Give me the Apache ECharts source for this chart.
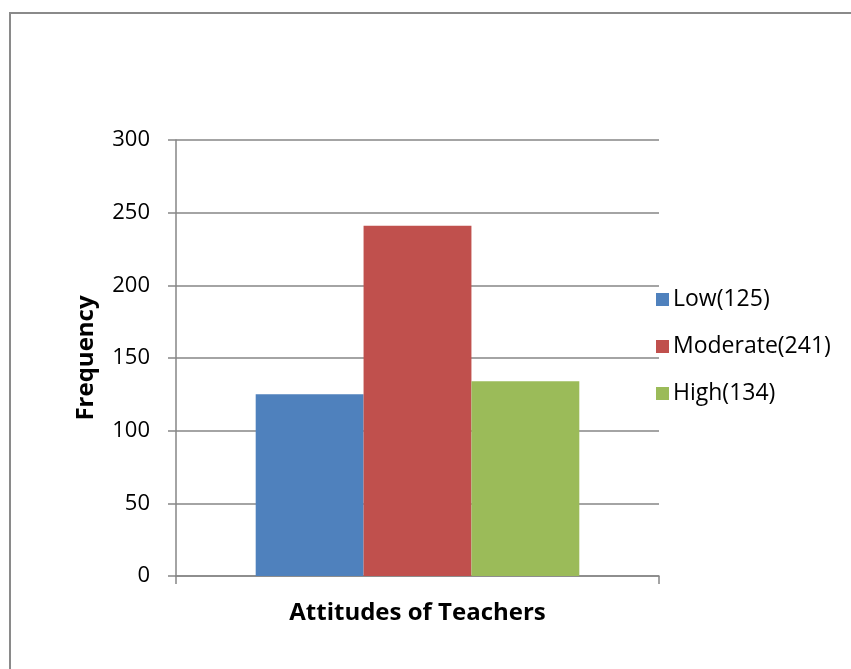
<!DOCTYPE html>
<html>
<head>
<meta charset="utf-8">
<script src="https://cdn.jsdelivr.net/npm/echarts@6/dist/echarts.min.js"></script>
<style>
    html, body { margin: 0; padding: 0; background: #fff; }
    #chart { width: 851px; height: 669px; }
</style>
</head>
<body>
<div id="chart"></div>
<script>
// values
var categories = ['Attitudes of Teachers'];
var seriesNames = ['Low(125)', 'Moderate(241)', 'High(134)'];
var seriesValues = [125, 241, 134];
var seriesColors = ['#4F81BD', '#C0504D', '#9BBB59'];

var chart = echarts.init(document.getElementById('chart'));

var series = [];
for (var i = 0; i < seriesNames.length; i++) {
    series.push({
        name: seriesNames[i],
        type: 'bar',
        data: [seriesValues[i]],
        barGap: 0,
        barCategoryGap: '33%',
        itemStyle: {color: seriesColors[i]}
    });
}

chart.setOption({
    animation: false,
    graphic: [{
        type: 'rect',
        shape: {x: 10, y: 13, width: 900, height: 700},
        style: {fill: 'none', stroke: '#8a8a8a', lineWidth: 2},
        silent: true
    }],
    grid: {left: 176, right: 192, top: 140, bottom: 93},
    legend: {
        orient: 'vertical',
        left: 651,
        top: 283,
        itemWidth: 13,
        itemHeight: 13,
        itemGap: 24,
        itemStyle: {borderWidth: 0},
        icon: 'rect',
        textStyle: {fontFamily: 'Open Sans', fontSize: 23, color: '#000', padding: [0, 0, 0, -1]},
        data: seriesNames
    },
    xAxis: {
        type: 'category',
        data: categories,
        name: 'Attitudes of Teachers',
        nameLocation: 'middle',
        nameGap: 25,
        nameTextStyle: {fontFamily: 'Open Sans', fontWeight: 'bold', fontSize: 24, color: '#000'},
        axisLine: {lineStyle: {color: '#868686', width: 1.5}},
        axisTick: {show: true, length: 8, lineStyle: {color: '#868686', width: 1.5}},
        axisLabel: {show: false}
    },
    yAxis: {
        type: 'value',
        min: 0,
        max: 300,
        interval: 50,
        name: 'Frequency',
        nameLocation: 'middle',
        nameGap: 78,
        nameTextStyle: {fontFamily: 'Open Sans', fontWeight: 'bold', fontSize: 24, color: '#000'},
        axisLine: {show: true, lineStyle: {color: '#868686', width: 1.5}},
        axisTick: {show: true, length: 8, lineStyle: {color: '#868686', width: 1.5}},
        axisLabel: {margin: 26, fontFamily: 'Open Sans', fontSize: 22, color: '#000'},
        splitLine: {lineStyle: {color: '#868686', width: 1.5}}
    },
    series: series
});
</script>
</body>
</html>
